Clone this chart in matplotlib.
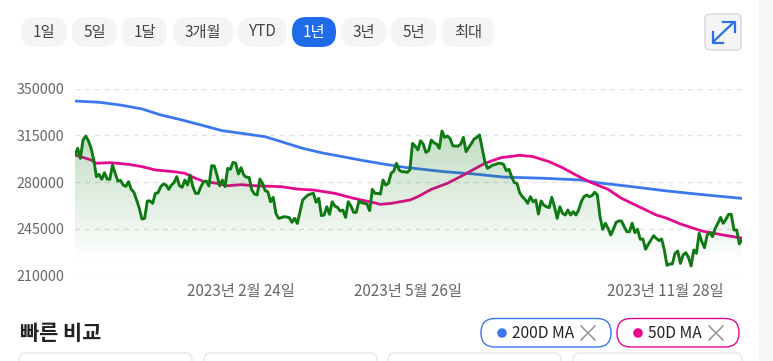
import numpy as np
import matplotlib
matplotlib.use("Agg")
import matplotlib.pyplot as plt
from matplotlib.patches import FancyBboxPatch, Circle

plt.rcParams["font.family"] = ["Noto Sans CJK KR", "DejaVu Sans"]

# closing price per trading day (thousands of won)
price = [
    300.2, 305.2, 297.7, 311.4, 314.4, 310.9, 305.2, 296.5, 284.0, 285.7, 282.0, 287.0, 282.2,
    282.0, 292.7, 286.5, 280.7, 281.2, 277.7, 276.7, 280.2, 274.5, 272.3, 266.5, 260.3, 252.3,
    252.8, 265.8, 265.8, 264.0, 271.5, 272.0, 276.5, 278.5, 277.7, 274.5, 277.7, 279.7, 284.0,
    277.2, 276.0, 281.5, 277.7, 285.2, 276.5, 271.5, 271.5, 276.5, 280.2, 280.7, 277.0, 292.2,
    292.0, 285.2, 277.2, 281.5, 276.5, 290.2, 289.5, 294.7, 294.0, 286.0, 290.7,
    285.2, 283.5, 283.5, 274.0, 271.0, 270.3, 282.2, 279.0, 273.5, 272.7, 265.2, 268.5, 256.5,
    252.8, 253.3, 254.0, 253.8, 253.3, 249.8, 252.8, 249.0, 257.8, 266.5, 268.5, 270.3, 271.0,
    271.5, 264.8, 267.8, 254.8, 255.3, 261.5, 255.8, 265.2, 262.0, 261.0, 258.3, 259.0, 253.5,
    265.2, 262.0, 257.3, 257.3, 265.8, 264.5, 264.0, 263.5, 258.5, 274.5, 271.5, 271.5, 271.0,
    281.5, 277.7, 279.0, 286.5, 288.2, 294.0, 289.0, 287.7, 287.7,
    287.2, 289.0, 308.9, 306.9, 304.0, 310.9, 308.4, 302.2, 303.4, 311.4, 309.4, 308.4, 305.2,
    318.2, 313.4, 314.4, 312.7, 307.2, 306.9, 306.9, 308.4, 313.4, 302.7, 305.9, 308.9, 312.2,
    313.4, 315.2, 305.2, 295.2, 290.2, 291.5, 292.7, 293.2, 294.0, 294.0, 293.2, 288.5, 289.5,
    284.0, 279.5, 279.0, 272.0, 269.0, 267.0, 264.0, 269.0, 265.2, 266.5, 256.0, 265.8, 262.7,
    261.5, 260.8, 268.5, 261.5, 252.8, 261.5, 256.5, 255.3, 259.0, 255.3, 257.8, 255.3,
    259.0, 265.3, 269.0, 270.3, 269.0, 269.8, 272.3, 270.3, 254.0, 244.6, 249.1, 245.3, 240.3,
    244.6, 249.8, 250.8, 250.8, 246.6, 242.8, 242.8, 249.1, 242.1, 244.6, 237.1, 237.3, 229.6,
    233.3, 236.6, 239.8, 237.8, 236.1, 237.3, 229.1, 217.6, 218.6, 218.6, 226.6, 228.3, 219.1,
    225.3, 227.1, 223.6, 217.1, 229.1, 226.6, 241.6, 235.3, 230.8, 240.3, 242.1, 239.1, 245.3,
    249.1, 253.5, 249.1, 252.1, 255.8, 255.8, 244.1, 244.1, 233.6, 237.1,
]

ma200_day = [0, 9, 17, 25, 32, 40, 47, 55, 62, 71, 77, 85, 92, 100, 108, 115, 123, 138, 149, 160,
             175, 189, 195, 208, 220, 233, 245, 251]
ma200 = [340.6, 339.7, 337.6, 334.7, 330.2, 326.4, 322.7, 318.4, 316.5, 313.9, 310.2, 305.2, 301.9,
         298.9, 295.9, 293.5, 291.0, 287.7, 286.0, 283.7, 282.8, 281.5, 279.5, 276.5, 273.5, 270.8,
         268.5, 267.3]

ma50_day = [0, 3, 6, 8, 13, 20, 25, 30, 37, 41, 45, 48, 53, 57, 62, 67, 77, 83, 89, 97, 104, 111,
            114, 118, 125, 128, 133, 139, 145, 153, 159, 166, 171, 177, 182, 187, 192, 199, 204,
            210, 217, 221, 226, 234, 242, 248, 251]
ma50 = [300.2, 298.4, 296.5, 294.0, 294.5, 293.2, 291.5, 289.0, 287.7, 286.5, 282.7, 280.5, 279.0,
        277.2, 278.0, 277.2, 276.5, 274.7, 274.0, 271.5, 267.8, 264.8, 263.3, 264.0, 266.5, 269.0,
        274.5, 279.0, 285.2, 294.0, 298.2, 300.0, 299.0, 295.2, 290.7, 285.2, 280.2, 274.5, 267.8,
        262.0, 255.3, 252.8, 248.6, 243.3, 240.3, 238.3, 237.8]

y_ticks = [210000, 245000, 280000, 315000, 350000]
x_tick_days = [62, 124.3, 220.3]
x_tick_labels = ["2023년 2월 24일", "2023년 5월 26일", "2023년 11월 28일"]
ranges = ["1일", "5일", "1달", "3개월", "YTD", "1년", "3년", "5년", "최대"]
range_left = [21, 72, 122, 173, 238, 292, 341, 391, 442]
range_right = [67, 117, 167, 233, 287, 336, 386, 436, 494]

W, H = 773, 361
fig = plt.figure(figsize=(W / 100, H / 100), dpi=100, facecolor="#f7f7f7")

# page furniture, drawn in pixel coordinates
ui = fig.add_axes([0, 0, 1, 1])
ui.set_xlim(0, W)
ui.set_ylim(H, 0)
ui.axis("off")


def pill(x0, y0, x1, y1, r, **kw):
    ui.add_patch(FancyBboxPatch((x0 + r, y0 + r), x1 - x0 - 2 * r, y1 - y0 - 2 * r,
                                boxstyle=f"round,pad={r}", **kw))


pill(-20, -20, 759, 400, 8, fc="white", ec="none")

for name, x0, x1 in zip(ranges, range_left, range_right):
    active = name == "1년"
    pill(x0, 17, x1, 47, 14.5, fc="#1f6bea" if active else "#f4f4f4", ec="none")
    ui.text((x0 + x1) / 2, 32, name, ha="center", va="center", fontsize=11,
            color="white" if active else "#444444")

# expand button
pill(705, 14, 741, 50, 5, fc="#f5f5f5", ec="#d6d6d6", lw=1)
ui.plot([713, 734], [42, 22], color="#2a6fe8", lw=1.6, solid_capstyle="round")
ui.plot([723, 734.5, 734.5], [22, 22, 32], color="#2a6fe8", lw=1.6)
ui.plot([712.5, 712.5, 723], [32, 43, 43], color="#2a6fe8", lw=1.6)

# quick compare row
ui.text(20, 333, "빠른 비교", ha="left", va="center", fontsize=15, fontweight="bold", color="#222222")
for x0, x1, col, label, lx, cx in [(481, 611, "#3b78f0", "200D MA", 512, 588),
                                   (617, 739, "#e5088f", "50D MA", 648, 716)]:
    pill(x0, 318.5, x1, 347, 14, fc="white", ec=col, lw=1)
    ui.add_patch(Circle((x0 + 21, 333), 4.8, fc=col, ec="none"))
    ui.text(lx, 333, label, ha="left", va="center", fontsize=11.2, color="#222222")
    ui.plot([cx - 7, cx + 7], [326, 340], color="#8a8a8a", lw=1)
    ui.plot([cx - 7, cx + 7], [340, 326], color="#8a8a8a", lw=1)
for x0, x1 in [(19, 192), (204, 377), (388, 561), (573, 742)]:
    pill(x0, 353, x1, 400, 7, fc="white", ec="#e8e8e8", lw=1)

# chart
ax = fig.add_axes([75 / W, 1 - 275.5 / H, 667 / W, 187 / H], facecolor="none")
days = np.arange(len(price))
price_won = np.array(price) * 1000

ax.set_xlim(0, len(price) - 1)
ax.set_ylim(210000, 350000)
for s in ax.spines.values():
    s.set_visible(False)
ax.set_yticks(y_ticks)
ax.set_yticklabels([str(v) for v in y_ticks])
ax.set_xticks(x_tick_days)
ax.set_xticklabels(x_tick_labels)
ax.tick_params(length=0, labelcolor="#666666", labelsize=11)
ax.tick_params(axis="y", labelsize=10.3, pad=7.5)
ax.tick_params(axis="x", pad=5.5)
ax.grid(axis="y", color="#e2e2e2", lw=1, ls=(0, (3.5, 3.5)))
ax.set_axisbelow(True)

ax.plot(ma200_day, np.array(ma200) * 1000, color="#3b78f0", lw=2, zorder=2)
ax.plot(ma50_day, np.array(ma50) * 1000, color="#e5088f", lw=2, zorder=2)

# gradient under the price line
grad = np.zeros((256, 1, 4))
grad[..., 0] = 0.06
grad[..., 1] = 0.48
grad[..., 2] = 0.08
grad[..., 3] = np.linspace(0.26, 0, 256)[:, None]
im = ax.imshow(grad, extent=(0, len(price) - 1, 219000, 318000), aspect="auto", origin="upper", zorder=3)
ax.set_xlim(0, len(price) - 1)
ax.set_ylim(210000, 350000)
area = ax.fill_between(days, price_won, 210000, color="none")
im.set_clip_path(area.get_paths()[0], transform=ax.transData)

ax.plot(days, price_won, color="#0f7a14", lw=2.1, zorder=4)

fig.savefig("out.png", dpi=100, facecolor=fig.get_facecolor())
